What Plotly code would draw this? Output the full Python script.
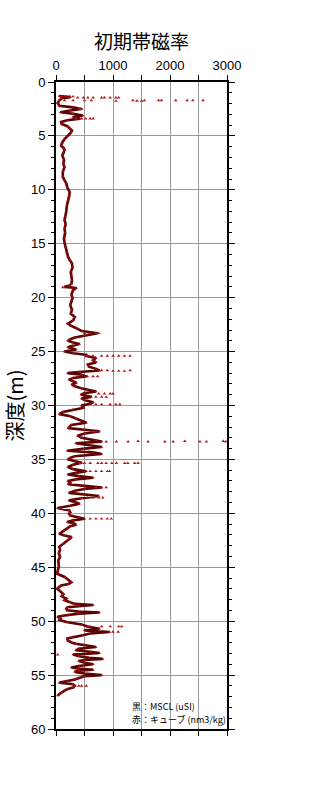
import plotly.graph_objects as go

# MSCL (black) profile: depth (m) and value (uSI)
mscl_depth = [1.3, 1.4, 1.5, 1.7, 1.95, 2.2, 2.35, 2.5, 2.65, 2.8, 2.95, 3.1, 3.25, 3.4, 3.55, 3.7, 3.9, 4.1, 4.3, 4.5,
              4.7, 5.0, 5.3, 5.6, 5.9, 6.1, 6.3, 6.6, 6.8, 7.2, 7.6, 7.9, 8.3, 8.8, 9.1, 9.4, 9.8, 10.2, 10.6, 11.0,
              11.5, 12.0, 12.5, 12.8, 13.2, 13.6, 14.0, 14.5, 14.9, 15.3, 15.8, 16.2, 16.5, 16.8, 17.2, 17.6, 18.0, 18.4, 18.7, 18.9,
              19.0, 19.1, 19.3, 19.7, 20.0, 20.3, 20.7, 21.1, 21.5, 21.8, 22.1, 22.4, 22.6, 22.9, 23.1, 23.3, 23.5, 23.7, 23.85, 24.0,
              24.15, 24.3, 24.45, 24.6, 24.8, 25.0, 25.15, 25.3, 25.4, 25.6, 25.8, 26.0, 26.2, 26.4, 26.6, 26.75, 26.9, 27.0, 27.15, 27.3,
              27.45, 27.6, 27.75, 27.9, 28.05, 28.2, 28.4, 28.55, 28.7, 28.85, 29.0, 29.2, 29.35, 29.5, 29.7, 29.85, 30.0, 30.2, 30.4, 30.6,
              30.8, 31.0, 31.2, 31.4, 31.6, 31.8, 32.0, 32.1, 32.25, 32.4, 32.6, 32.8, 33.0, 33.2, 33.35, 33.5, 33.7, 33.85, 34.0, 34.2,
              34.35, 34.5, 34.7, 34.85, 35.0, 35.15, 35.3, 35.5, 35.7, 35.9, 36.1, 36.25, 36.4, 36.55, 36.7, 36.85, 37.0, 37.15, 37.3, 37.45,
              37.6, 37.75, 37.9, 38.1, 38.25, 38.4, 38.6, 38.8, 38.95, 39.1, 39.3, 39.5, 39.6, 39.7, 39.9, 40.05, 40.2, 40.35, 40.5, 40.65,
              40.8, 40.9, 41.05, 41.2, 41.4, 41.6, 41.9, 42.05, 42.2, 42.35, 42.5, 42.8, 43.1, 43.4, 43.7, 44.0, 44.4, 44.9, 45.3, 45.6,
              45.9, 46.1, 46.4, 46.55, 46.7, 46.85, 47.0, 47.25, 47.5, 47.7, 47.9, 48.05, 48.25, 48.4, 48.5, 48.6, 48.7, 48.85, 49.0, 49.1,
              49.2, 49.3, 49.4, 49.5, 49.6, 49.75, 49.9, 50.1, 50.3, 50.5, 50.7, 50.85, 51.0, 51.15, 51.3, 51.45, 51.6, 51.8, 52.0, 52.1,
              52.25, 52.4, 52.55, 52.7, 52.85, 52.95, 53.1, 53.25, 53.4, 53.5, 53.6, 53.7, 53.85, 54.0, 54.15, 54.3, 54.4, 54.5, 54.6, 54.7,
              54.85, 55.0, 55.1, 55.2, 55.3, 55.4, 55.55, 55.7, 55.85, 56.0, 56.15, 56.3, 56.45, 56.6, 56.75, 56.9]
mscl_value = [60, 250, 100, 60, 30, 60, 300, 440, 250, 80, 300, 470, 300, 420, 200, 90, 100, 200, 240, 280,
              260, 200, 150, 110, 90, 130, 150, 130, 110, 140, 130, 150, 120, 120, 150, 180, 200, 240, 230, 210,
              190, 180, 160, 150, 170, 150, 160, 140, 150, 170, 190, 210, 240, 280, 290, 260, 270, 280, 270, 230,
              150, 355, 300, 270, 290, 270, 250, 280, 260, 330, 300, 210, 260, 380, 450, 730, 500, 330, 250, 210,
              300, 410, 290, 210, 350, 150, 300, 530, 530, 700, 650, 700, 560, 580, 700, 760, 400, 205, 450, 530,
              300, 230, 300, 355, 280, 320, 440, 550, 700, 500, 440, 620, 450, 500, 650, 600, 450, 490, 290, 120,
              60, 250, 350, 450, 530, 270, 230, 215, 500, 760, 500, 380, 450, 700, 800, 350, 600, 800, 500, 200,
              650, 800, 330, 250, 210, 350, 450, 300, 210, 300, 530, 350, 210, 400, 650, 350, 210, 250, 215, 500,
              800, 500, 330, 230, 500, 750, 450, 230, 330, 410, 250, 30, 100, 230, 250, 230, 250, 400, 500, 300,
              200, 300, 350, 250, 200, 130, 60, 150, 270, 240, 200, 130, 60, 70, 50, 70, 40, 50, 30, 20,
              150, 200, 270, 220, 90, 50, 20, 80, 130, 100, 180, 150, 250, 330, 650, 400, 200, 180, 195, 400,
              760, 400, 215, 120, 30, 80, 60, 200, 450, 550, 760, 500, 940, 600, 470, 300, 200, 210, 280, 350,
              500, 700, 400, 350, 600, 760, 300, 400, 580, 820, 500, 400, 500, 650, 400, 270, 400, 650, 400, 330,
              500, 800, 500, 450, 380, 330, 200, 60, 300, 330, 300, 200, 150, 100, 60, 30]

# Cube (red) samples: depth (m) and value (nm3/kg)
cube_depth = [1.35, 1.35, 1.35, 1.35,
              1.45, 1.45, 1.45, 1.45, 1.45, 1.45, 1.45, 1.45, 1.45,
              1.7, 1.7, 1.7, 1.7, 1.75, 1.7, 1.75, 1.75, 1.7, 1.7, 1.7, 1.7, 1.7, 1.7, 1.7,
              2.5, 2.5, 3.4, 3.4, 3.4, 3.4, 3.4, 19.05,
              23.3, 23.3, 23.3, 23.3,
              25.4, 25.4, 25.4, 25.4, 25.4, 25.4, 25.4, 25.4,
              26.75, 26.75, 26.8, 26.8, 26.8, 26.75,
              27.3, 27.3, 27.3,
              28.9, 28.9, 28.9, 28.9,
              29.2, 29.2, 29.2,
              29.9, 29.9, 29.9, 29.9, 29.9,
              32.4, 32.4,
              33.35, 33.35, 33.35, 33.3, 33.35, 33.35, 33.35, 33.3, 33.35, 33.35, 33.3, 33.35,
              35.35, 35.35, 35.35, 35.35, 35.35, 35.35, 35.35, 35.35, 35.35, 35.35, 35.35, 35.35,
              36.1, 36.1, 36.1, 36.1, 36.1,
              37.6, 37.6, 37.6,
              38.55, 38.55, 38.55, 38.55, 38.6,
              40.5, 40.5, 40.5, 40.5, 40.5,
              50.5, 50.5, 50.5, 50.5, 50.5,
              51.0, 51.0,
              53.1,
              56.0, 56.0, 56.0]
cube_value = [100, 180, 240, 300,
              380, 480, 560, 650, 800, 850, 950, 1050, 1100,
              150, 300, 500, 620, 1050, 1350, 1420, 1500, 1550, 1800, 1850, 2100, 2300, 2400, 2580,
              400, 450, 350, 450, 520, 600, 650, 120,
              500, 600, 700, 750,
              550, 650, 800, 900, 1000, 1100, 1200, 1300,
              800, 900, 1000, 1100, 1200, 1300,
              550, 650, 730,
              750, 850, 950, 1000,
              700, 800, 880,
              700, 800, 950, 1050, 1120,
              650, 700,
              880, 1060, 1265, 1440, 1615, 1910, 2055, 2260, 2525, 2640, 2935, 2980,
              415, 500, 600, 735, 800, 880, 980, 1060, 1205, 1260, 1380, 1440,
              600, 700, 800, 900, 940,
              700, 800, 880,
              550, 650, 750, 820, 450,
              600, 700, 800, 900, 970,
              600, 800, 950, 1100, 1150,
              1000, 1090,
              30,
              400, 450, 530]

title_text = "初期帯磁率"
y_title = "深度(m)"
note_black = "黒：MSCL (uSI)"
note_red = "赤：キューブ (nm3/kg)"

FONT = "Liberation Sans, Noto Sans CJK JP, sans-serif"

fig = go.Figure()
fig.add_trace(go.Scatter(x=mscl_value, y=mscl_depth, mode="lines",
                         line=dict(color="#5a0404", width=2.6), showlegend=False))
fig.add_trace(go.Scatter(x=mscl_value, y=mscl_depth, mode="markers",
                         marker=dict(symbol="triangle-up", size=3, color="#a01010"), showlegend=False))
fig.add_trace(go.Scatter(x=cube_value, y=cube_depth, mode="markers",
                         marker=dict(symbol="triangle-up", size=3.2, color="#b01818"), showlegend=False))

fig.update_layout(
    width=320, height=800,
    margin=dict(l=56, r=93, t=82, b=71),
    paper_bgcolor="white", plot_bgcolor="white",
    font=dict(family=FONT, color="black"),
    title=dict(text=title_text, x=141.5 / 320, xanchor="center", y=1 - 42 / 800, yanchor="middle",
               font=dict(size=19, family="Noto Sans CJK JP")),
    xaxis=dict(range=[0, 3000], side="top", dtick=1000, tick0=0,
               ticks="outside", ticklen=5, tickwidth=1, tickcolor="black",
               showline=True, linewidth=2, linecolor="black", mirror="allticks",
               showgrid=True, gridcolor="#9a9a9a", gridwidth=1, zeroline=False,
               tickfont=dict(size=13),
               minor=dict(dtick=500, ticks="outside", ticklen=5, tickcolor="black",
                          showgrid=True, gridcolor="#9a9a9a", gridwidth=1)),
    yaxis=dict(range=[60, 0], dtick=5, tick0=0,
               ticks="outside", ticklen=6, tickwidth=1, tickcolor="black",
               showline=True, linewidth=2, linecolor="black", mirror="allticks",
               showgrid=True, gridcolor="#9a9a9a", gridwidth=1, zeroline=False,
               tickfont=dict(size=13),
               title=dict(text=y_title, font=dict(size=20, family="Noto Sans CJK JP"), standoff=6),
               minor=dict(dtick=1, ticks="outside", ticklen=3, tickcolor="black", showgrid=False)),
    annotations=[
        dict(text=note_black, x=(130 - 56) / 171, y=(729 - 706) / 647, xref="paper", yref="paper",
             xanchor="left", yanchor="middle", showarrow=False,
             font=dict(size=9, family="Noto Sans CJK JP")),
        dict(text=note_red, x=(130 - 56) / 171, y=(729 - 719) / 647, xref="paper", yref="paper",
             xanchor="left", yanchor="middle", showarrow=False,
             font=dict(size=9, family="Noto Sans CJK JP")),
    ],
)

fig.write_html("out.html")
